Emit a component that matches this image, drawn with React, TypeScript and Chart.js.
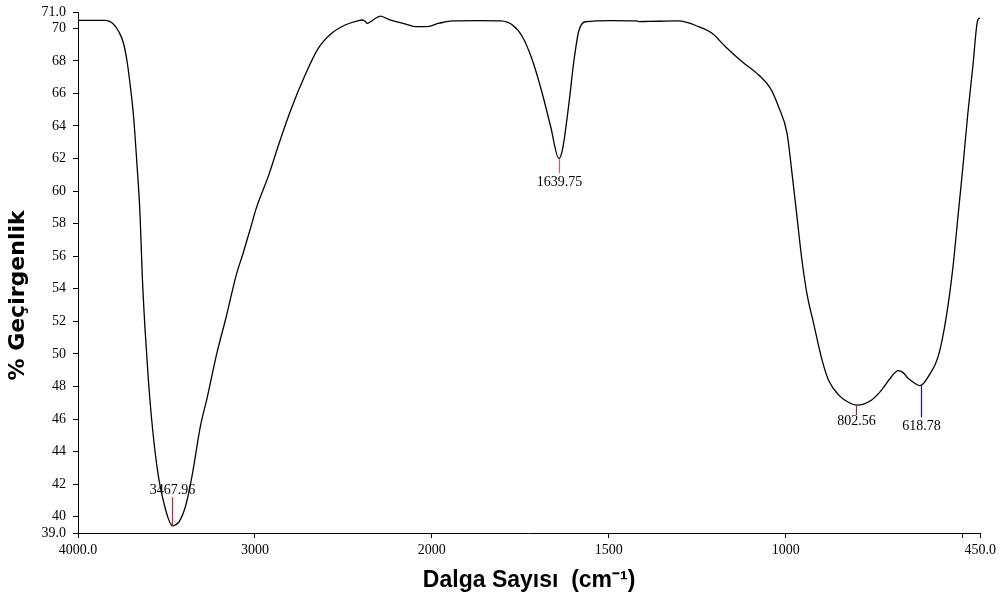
import React, { useEffect, useRef } from "react";
import { Chart, registerables } from "chart.js";

Chart.register(...registerables);

// Spectrum data (wavenumber cm-1, % transmittance)
const wavenumbers = [
  4000, 3900, 3843, 3806, 3769, 3742, 3723, 3705, 3686, 3668, 3649, 3637, 3622, 3603, 3576, 3544,
  3511, 3490, 3474, 3462, 3450, 3428, 3391, 3354, 3308, 3271, 3216, 3161, 3105, 3068, 3022, 2994,
  2921, 2866, 2793, 2718, 2643, 2566, 2490, 2420, 2395, 2375, 2366, 2347, 2320, 2290, 2255, 2223,
  2147, 2090, 2033, 1979, 1941, 1866, 1805, 1772, 1744, 1716, 1688, 1664, 1641, 1631, 1613, 1599,
  1585, 1566, 1491, 1420, 1416, 1388, 1302, 1246, 1208, 1170, 1123, 1076, 1043, 1020, 996, 982,
  968, 954, 940, 921, 897, 879, 850, 820, 800, 780, 757, 729, 701, 682, 668, 654, 635, 621, 610,
  597, 569, 546, 527, 513, 499, 485, 471, 457, 450,
];
const transmittance = [
  70.49, 70.49, 70.49, 70.32, 69.79, 69.05, 67.99, 66.51, 64.6, 61.85, 58.47, 54.87, 51.69, 48.52, 45.13, 42.38,
  40.69, 39.9, 39.52, 39.44, 39.5, 39.7, 40.69, 42.59, 45.56, 47.25, 50.0, 52.33, 54.87, 56.14, 57.83, 58.89,
  61.01, 62.85, 65.1, 67.08, 68.75, 69.69, 70.2, 70.45, 70.51, 70.42, 70.3, 70.4, 70.6, 70.75, 70.6, 70.47,
  70.26, 70.1, 70.1, 70.31, 70.45, 70.47, 70.45, 70.2, 69.48, 68.05, 66.01, 63.95, 62.01, 62.52, 65.3, 67.9,
  69.8, 70.4, 70.47, 70.45, 70.41, 70.42, 70.45, 70.1, 69.69, 68.87, 67.95, 67.13, 66.31, 65.18, 63.55, 61.09,
  58.43, 55.77, 53.72, 51.88, 49.62, 48.4, 47.47, 47.0, 46.86, 46.92, 47.17, 47.78, 48.6, 48.97, 48.85, 48.5, 48.2, 48.05, 48.2,
  48.6, 49.83, 52.28, 55.36, 58.43, 61.5, 64.78, 67.64, 70.51, 70.63,
];

// Peak annotations
const peakWavenumbers = [3467.96, 1639.75, 802.56, 618.78];
const peakLabels = ["3467.96", "1639.75", "802.56", "618.78"];
const peakLineFrom = [39.46, 62.0, 46.86, 48.03];
const peakLineTo = [41.2, 61.1, 46.25, 46.1];
const peakLabelY = [41.64, 60.56, 45.88, 45.57];
const peakColors = ["#d02020", "#e0507a", "#8a3020", "#1010b0"];

// Axis ticks
const xTickValues = [4000, 3000, 2000, 1500, 1000, 500, 450];
const xTickLabels = ["4000.0", "3000", "2000", "1500", "1000", "", "450.0"];
const yTickValues = [39, 40, 42, 44, 46, 48, 50, 52, 54, 56, 58, 60, 62, 64, 66, 68, 70, 71];
const yTickLabels = ["39.0", "40", "42", "44", "46", "48", "50", "52", "54", "56", "58", "60", "62", "64", "66", "68", "70", "71.0"];

// Scale break: above 2000 cm-1 the axis is compressed by a factor of 2
const BREAK = 2000;
const toAxis = (w: number) => (w > BREAK ? BREAK + (w - BREAK) / 2 : w);
const fromAxis = (u: number) => (u > BREAK ? BREAK + (u - BREAK) * 2 : u);

const serif = "'Liberation Serif', 'Times New Roman', serif";

const peakPlugin = {
  id: "peaks",
  afterDatasetsDraw(chart: any) {
    const { ctx, scales } = chart;
    const xs = scales.x;
    const ys = scales.y;
    ctx.save();
    peakWavenumbers.forEach((w, i) => {
      const x = Math.round(xs.getPixelForValue(toAxis(w))) + 0.5;
      ctx.strokeStyle = peakColors[i];
      ctx.lineWidth = 1.2;
      ctx.beginPath();
      ctx.moveTo(x, ys.getPixelForValue(peakLineFrom[i]));
      ctx.lineTo(x, ys.getPixelForValue(peakLineTo[i]));
      ctx.stroke();
      ctx.fillStyle = "#000";
      ctx.font = `14px ${serif}`;
      ctx.textAlign = "center";
      ctx.textBaseline = "middle";
      ctx.fillText(peakLabels[i], x, ys.getPixelForValue(peakLabelY[i]));
    });
    ctx.restore();
  },
};

export default function App() {
  const ref = useRef<HTMLCanvasElement | null>(null);

  useEffect(() => {
    if (!ref.current) return;
    const chart = new Chart(ref.current, {
      type: "line",
      data: {
        datasets: [
          {
            data: wavenumbers.map((w, i) => ({ x: toAxis(w), y: transmittance[i] })),
            borderColor: "#000",
            borderWidth: 1.3,
            pointRadius: 0,
            fill: false,
            cubicInterpolationMode: "monotone",
          },
        ],
      },
      options: {
        animation: false,
        responsive: true,
        maintainAspectRatio: false,
        layout: { padding: { top: 12, right: 18, left: 0, bottom: 0 } },
        plugins: { legend: { display: false }, tooltip: { enabled: false } },
        scales: {
          x: {
            type: "linear",
            reverse: true,
            min: 450,
            max: 3000,
            afterBuildTicks: (s: any) => {
              s.ticks = xTickValues.map((w) => ({ value: toAxis(w) }));
            },
            afterFit: (s: any) => {
              s.height = 66;
            },
            ticks: {
              autoSkip: false,
              maxRotation: 0,
              padding: 4,
              color: "#000",
              font: { family: serif, size: 14 },
              callback: (v: any) => {
                const w = Math.round(fromAxis(Number(v)));
                const idx = xTickValues.indexOf(w);
                return idx >= 0 ? xTickLabels[idx] : "";
              },
            },
            grid: { display: true, drawOnChartArea: false, drawTicks: true, tickLength: 5, color: "#000" },
            border: { display: true, color: "#000", width: 1 },
            title: {
              display: true,
              text: "Dalga Sayısı  (cm⁻¹)",
              color: "#000",
              font: { family: "'Liberation Sans', Arial, sans-serif", size: 23, weight: "bold" },
              padding: { top: 0, bottom: 5 },
            },
          },
          y: {
            type: "linear",
            min: 39,
            max: 71,
            afterBuildTicks: (s: any) => {
              s.ticks = yTickValues.map((v) => ({ value: v }));
            },
            afterFit: (s: any) => {
              s.width = 78;
              s.paddingTop = 0;
              s.paddingBottom = 0;
            },
            ticks: {
              autoSkip: false,
              padding: 7,
              color: "#000",
              font: { family: serif, size: 14 },
              callback: (v: any) => {
                const idx = yTickValues.indexOf(Number(v));
                return idx >= 0 ? yTickLabels[idx] : "";
              },
            },
            grid: { display: true, drawOnChartArea: false, drawTicks: true, tickLength: 5, color: "#000" },
            border: { display: true, color: "#000", width: 1 },
            title: {
              display: true,
              text: "% Geçirgenlik      ",
              color: "#000",
              font: { family: "'DejaVu Sans', Verdana, sans-serif", size: 22, weight: "bold" },
              padding: { top: 5, bottom: 0 },
            },
          },
        },
      },
      plugins: [peakPlugin],
    } as any);
    return () => chart.destroy();
  }, []);

  return (
    <div style={{ position: "fixed", left: 0, top: 0, width: 1000, height: 599, background: "#fff" }}>
      <canvas ref={ref} />
    </div>
  );
}
